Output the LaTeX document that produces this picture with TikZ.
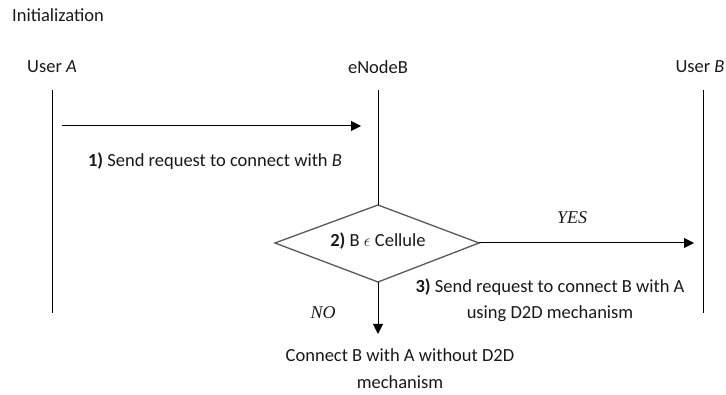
\documentclass[tikz,border=0pt]{standalone}
\usepackage{fontspec}
\setmainfont{Carlito}
\newfontfamily\myserif{Liberation Serif}
\usetikzlibrary{arrows.meta}
\begin{document}
\begin{tikzpicture}[x=1pt,y=-1pt,
  txt/.style={font=\fontsize{18.5}{22}\selectfont, inner sep=0pt, text=black!90},
  lbl/.style={font=\fontsize{18}{22}\selectfont\myserif\itshape, inner sep=0pt, text=black!90},
  life/.style={draw=black, line width=1pt},
  msg/.style={draw=black, line width=1pt, -{Triangle[length=10pt,width=10pt]}},
  dec/.style={draw=black!65, line width=1.3pt}]
\useasboundingbox (0,0) rectangle (726,395);
\node[txt, anchor=west] (init) at (12,15) {Initialization};
\node[txt] (ua) at (52,67) {User \textit{A}};
\node[txt] (enb) at (378,67) {eNodeB};
\node[txt] (ub) at (700,67) {User \textit{B}};
\coordinate (atop) at (52,90);
\coordinate (abot) at (52,313);
\coordinate (etop) at (378,90);
\coordinate (btop) at (703,90);
\coordinate (bbot) at (703,313);
\draw[life] (atop) -- (abot);
\draw[life] (btop) -- (bbot);
% diamond
\coordinate (dl) at (275,243);
\coordinate (dt) at (378,205);
\coordinate (dr) at (479,243);
\coordinate (db) at (378,282);
\draw[dec] (dl) -- (dt) -- (dr) -- (db) -- cycle;
\draw[life] (etop) -- (dt);
\node[txt] (dtext) at (378,241) {\textbf{2)} B $\epsilon$ Cellule};
% message 1
\coordinate (m1s) at (62,126);
\coordinate (m1e) at (361,126);
\draw[msg] (m1s) -- (m1e);
\node[txt] (l1) at (215,161) {\textbf{1)} Send request to connect with \textit{B}};
% YES
\coordinate (yend) at (694,243);
\draw[msg] (dr) -- (yend);
\node[lbl] (yes) at (572,218) {YES};
\node[txt] (l3a) at (550,287) {\textbf{3)} Send request to connect B with A};
\node[txt] (l3b) at (550,314) {using D2D mechanism};
% NO
\coordinate (nend) at (378,334);
\draw[msg] (db) -- (nend);
\node[lbl] (no) at (323,313) {NO};
\node[txt] (c1) at (400,355) {Connect B with A without D2D};
\node[txt] (c2) at (400,382) {mechanism};
\end{tikzpicture}
\end{document}
